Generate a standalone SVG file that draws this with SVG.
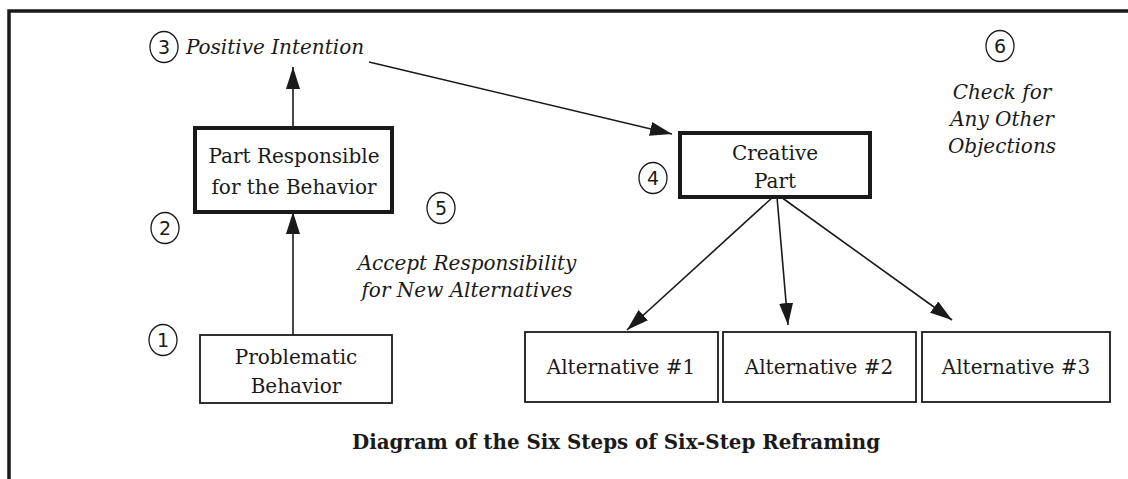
<svg xmlns="http://www.w3.org/2000/svg" width="1128" height="479" viewBox="0 0 1128 479">
<style>
.bg{fill:#ffffff}
.frame{stroke:#1a1a1a;stroke-width:3.5;fill:none}
.box{fill:#ffffff;stroke:#1a1a1a;stroke-width:1.8}
.boxb{fill:#ffffff;stroke:#1a1a1a;stroke-width:4}
.num{fill:#ffffff;stroke:#1a1a1a;stroke-width:1.3}
.t{font-family:"DejaVu Serif","Liberation Serif",serif;font-size:20px;fill:#1a1a1a;text-anchor:middle}
.it{font-family:"DejaVu Serif","Liberation Serif",serif;font-style:italic;font-size:20px;fill:#1a1a1a;text-anchor:middle}
.n{font-family:"DejaVu Sans","Liberation Sans",sans-serif;font-size:19px;fill:#1a1a1a;text-anchor:middle}
.title{font-family:"DejaVu Serif","Liberation Serif",serif;font-weight:bold;font-size:20px;fill:#1a1a1a;text-anchor:middle}
.conn line{stroke:#1a1a1a;stroke-width:1.6;marker-end:url(#ah)}
</style>
<defs>
<marker id="ah" markerUnits="userSpaceOnUse" markerWidth="24" markerHeight="16" refX="22" refY="7" orient="auto">
<path d="M0,0 L22,7 L0,14 Z" fill="#1a1a1a"/>
</marker>
</defs>
<rect class="bg" x="0" y="0" width="1128" height="479"/>
<g id="frame">
<path class="frame" d="M9,479 V11 H1128"/>
</g>
<g id="connectors" class="conn">
<line x1="293" y1="335" x2="293" y2="212"/>
<line x1="293" y1="127" x2="293" y2="67"/>
<line x1="369" y1="62" x2="672" y2="134"/>
<line x1="773" y1="197" x2="627" y2="330"/>
<line x1="777" y1="197" x2="788" y2="325"/>
<line x1="781" y1="197" x2="952" y2="320"/>
</g>
<g id="n3">
<ellipse class="num" cx="164" cy="47" rx="14" ry="15.5"/>
<text class="n" x="164" y="54">3</text>
<text class="it" x="275" y="54">Positive Intention</text>
</g>
<g id="part-responsible">
<rect class="boxb" x="195" y="128" width="197" height="84"/>
<text class="t" x="294" y="163">Part Responsible</text>
<text class="t" x="294" y="194">for the Behavior</text>
</g>
<g id="n2">
<ellipse class="num" cx="165" cy="228" rx="14" ry="15.5"/>
<text class="n" x="165" y="235">2</text>
</g>
<g id="problematic">
<rect class="box" x="200" y="335" width="192" height="68"/>
<text class="t" x="296" y="364">Problematic</text>
<text class="t" x="296" y="393">Behavior</text>
</g>
<g id="n1">
<ellipse class="num" cx="163" cy="340" rx="14" ry="15.5"/>
<text class="n" x="163" y="347">1</text>
</g>
<g id="n5">
<ellipse class="num" cx="441" cy="208" rx="14" ry="15.5"/>
<text class="n" x="441" y="215">5</text>
<text class="it" x="467" y="270">Accept Responsibility</text>
<text class="it" x="467" y="297">for New Alternatives</text>
</g>
<g id="creative">
<rect class="boxb" x="680" y="133" width="190" height="64"/>
<text class="t" x="775" y="160">Creative</text>
<text class="t" x="775" y="188">Part</text>
</g>
<g id="n4">
<ellipse class="num" cx="653" cy="178" rx="14" ry="15.5"/>
<text class="n" x="653" y="185">4</text>
</g>
<g id="n6">
<ellipse class="num" cx="1000" cy="46" rx="14" ry="15.5"/>
<text class="n" x="1000" y="53">6</text>
<text class="it" x="1002" y="99">Check for</text>
<text class="it" x="1002" y="126">Any Other</text>
<text class="it" x="1002" y="153">Objections</text>
</g>
<g id="alt1">
<rect class="box" x="525" y="332" width="193" height="70"/>
<text class="t" x="621" y="374">Alternative #1</text>
</g>
<g id="alt2">
<rect class="box" x="723" y="332" width="193" height="70"/>
<text class="t" x="819" y="374">Alternative #2</text>
</g>
<g id="alt3">
<rect class="box" x="922" y="332" width="188" height="70"/>
<text class="t" x="1016" y="374">Alternative #3</text>
</g>
<g id="caption">
<text class="title" x="616" y="449" textLength="528" lengthAdjust="spacingAndGlyphs">Diagram of the Six Steps of Six-Step Reframing</text>
</g>
</svg>
